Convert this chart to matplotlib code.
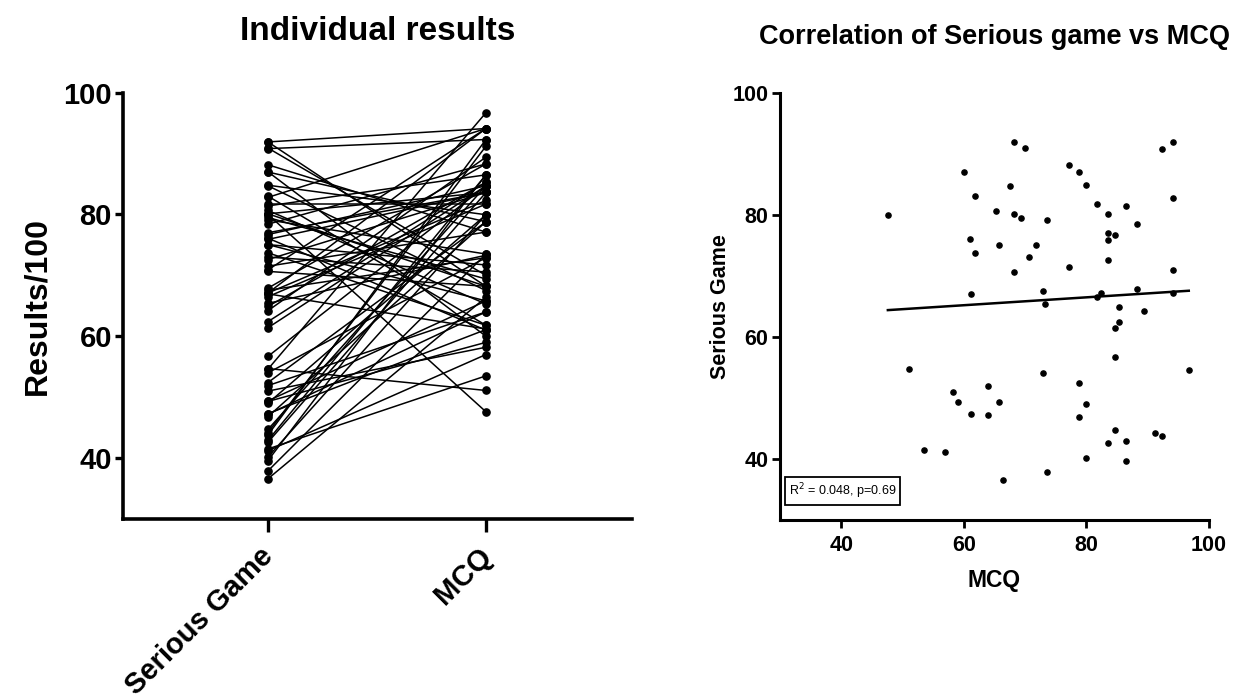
import numpy as np
import matplotlib
matplotlib.use("Agg")
import matplotlib.pyplot as plt
from matplotlib.transforms import ScaledTranslation

plt.rcParams['font.family'] = ['Liberation Sans', 'DejaVu Sans']

# Paired results per individual: (MCQ, Serious Game)
mcq = [47.6, 60.0, 61.8, 68.2, 70.0, 67.5, 65.3, 68.2, 69.4, 73.5,
       61.0, 65.8, 61.8, 71.7, 70.55, 68.2, 61.2, 72.9, 73.3, 77.1,
       78.8, 79.95, 81.7, 83.6, 86.5, 88.3, 83.6, 84.7, 83.6, 83.6,
       77.1, 92.3, 94.1, 94.1, 94.1, 88.3, 82.3, 81.7, 94.1, 85.3,
       89.4, 85.3, 84.7, 84.7, 51.1, 72.9, 96.7, 78.8, 64.0, 58.2,
       59.0, 65.8, 79.95, 61.1, 64.0, 78.8, 84.7, 91.2, 92.3, 83.6,
       86.5, 53.5, 57.0, 79.95, 86.5, 73.5, 66.4]
serious = [80.0, 87.0, 83.0, 91.9, 90.9, 84.7, 80.65, 80.1, 79.5, 79.1,
           76.1, 75.05, 73.7, 75.05, 73.0, 70.65, 66.96, 67.55, 65.4, 88.15,
           86.96, 84.8, 81.7, 80.1, 81.4, 78.4, 77.0, 76.7, 75.9, 72.6,
           71.5, 90.8, 91.9, 82.8, 70.9, 67.9, 67.1, 66.5, 67.1, 64.9,
           64.2, 62.4, 61.4, 56.7, 54.7, 54.0, 54.6, 52.4, 51.9, 51.0,
           49.3, 49.4, 49.0, 47.3, 47.2, 46.8, 44.7, 44.2, 43.8, 42.6,
           42.9, 41.5, 41.2, 40.2, 39.6, 37.9, 36.6]

# Regression line as shown in the figure (slope, intercept)
fit_slope = 0.0646
fit_intercept = 61.3

categories = ["Serious Game", "MCQ"]
yticks = [40, 60, 80, 100]
xticks_r = [40, 60, 80, 100]
stats_label = "R$^2$ = 0.048, p=0.69"

W, H = 1247, 698
fig = plt.figure(figsize=(W / 100, H / 100), dpi=100)

def px_axes(x0, x1, ytop, ybot):
    return fig.add_axes([x0 / W, 1 - ybot / H, (x1 - x0) / W, (ybot - ytop) / H])

# ---------- Left: paired lines ----------
ax1 = px_axes(123, 632, 92.6, 519)
for s, m in zip(serious, mcq):
    ax1.plot([0, 1], [s, m], color='black', lw=1.1, marker='o', ms=5.2,
             solid_capstyle='round')
ax1.set_xlim(-0.665, 1.67)
ax1.set_ylim(30, 100)
ax1.set_yticks(yticks)
ax1.set_xticks([0, 1])
ax1.set_xticklabels(categories, rotation=45, ha='right', rotation_mode='anchor')
for sp in ['top', 'right']:
    ax1.spines[sp].set_visible(False)
for sp in ['left', 'bottom']:
    ax1.spines[sp].set_linewidth(2.6)
ax1.tick_params(axis='y', length=6, width=2.4, labelsize=21, pad=2)
ax1.tick_params(axis='x', length=9, width=2.4, labelsize=21, pad=6)
for lab in ax1.get_xticklabels() + ax1.get_yticklabels():
    lab.set_fontweight('bold')
shift = ScaledTranslation(-9 / 100, -2 / 100, fig.dpi_scale_trans)
for lab in ax1.get_xticklabels():
    lab.set_transform(lab.get_transform() + shift)
ax1.set_ylabel("Results/100", fontsize=23, fontweight='bold', labelpad=8)
ax1.set_title("Individual results", fontsize=24, fontweight='bold', pad=38)

# ---------- Right: correlation scatter ----------
ax2 = px_axes(780, 1209, 92.6, 520)
ax2.scatter(mcq, serious, s=14, color='black', zorder=3)
xf = np.array([min(mcq), max(mcq)])
ax2.plot(xf, fit_slope * xf + fit_intercept, color='black', lw=1.8)
ax2.set_xlim(30, 100)
ax2.set_ylim(30, 100)
ax2.set_xticks(xticks_r)
ax2.set_yticks(yticks)
for sp in ['top', 'right']:
    ax2.spines[sp].set_visible(False)
for sp in ['left', 'bottom']:
    ax2.spines[sp].set_linewidth(2.2)
ax2.tick_params(axis='both', length=5.5, width=2.0, labelsize=15.5, pad=3)
ax2.tick_params(axis='x', pad=5)
for lab in ax2.get_xticklabels() + ax2.get_yticklabels():
    lab.set_fontweight('bold')
ax2.set_xlabel("MCQ", fontsize=16.5, fontweight='bold', labelpad=10)
ax2.set_ylabel("Serious Game", fontsize=15.5, fontweight='bold', labelpad=1)
ax2.set_title("Correlation of Serious game vs MCQ", fontsize=19.5,
              fontweight='bold', pad=35)
ax2.text(0.02, 0.045, stats_label, transform=ax2.transAxes, fontsize=9,
         ha='left', va='bottom',
         bbox=dict(boxstyle='square,pad=0.3', fc='white', ec='black', lw=1.3))

fig.savefig("out.png", dpi=100)
